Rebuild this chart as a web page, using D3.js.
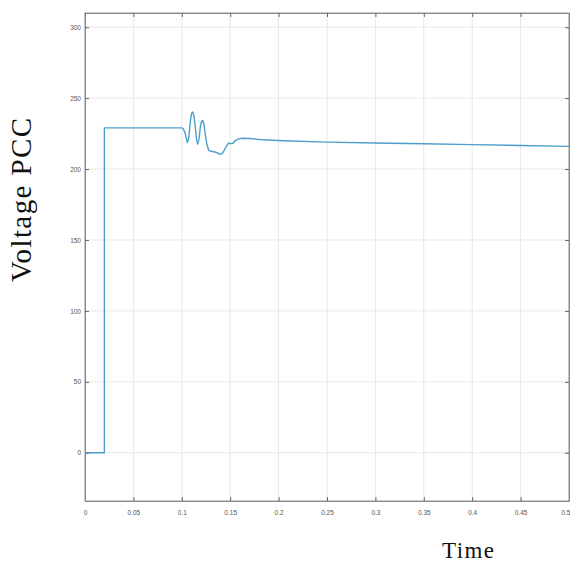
<!DOCTYPE html>
<html><head><meta charset="utf-8">
<script src="https://cdn.jsdelivr.net/npm/d3@7"></script>
<style>body{margin:0;background:#fff}svg{display:block}</style>
</head><body>
<script>
const timeValues = [0, 0.02, 0.02, 0.1, 0.1016, 0.1038, 0.1057, 0.1072, 0.1088, 0.110, 0.1112, 0.1126, 0.1142, 0.1154, 0.1164, 0.1178, 0.1193, 0.1206, 0.1216, 0.1229, 0.1245, 0.126, 0.1278, 0.1302, 0.1333, 0.1364, 0.1395, 0.1415, 0.1436, 0.1457, 0.1482, 0.1508, 0.1529, 0.155, 0.1584, 0.1632, 0.1705, 0.1839, 0.2045, 0.25, 0.3, 0.35, 0.4, 0.45, 0.5];
const voltageValues = [0, 0, 229, 229, 228.5, 224.4, 218.7, 222, 233.3, 239, 240.2, 237.5, 227.7, 220, 217.6, 221.3, 230.5, 233.7, 234.2, 231.2, 223.4, 217.1, 213.2, 212.5, 212.2, 211.5, 210.4, 210.7, 212.9, 215.7, 218.2, 217.9, 218.2, 219.9, 221.3, 221.7, 221.5, 220.6, 219.9, 219, 218.4, 217.8, 217.2, 216.6, 216];
const xTicks = [0, 0.05, 0.1, 0.15, 0.2, 0.25, 0.3, 0.35, 0.4, 0.45, 0.5];
const xTickLabels = ["0", "0.05", "0.1", "0.15", "0.2", "0.25", "0.3", "0.35", "0.4", "0.45", "0.5"];
const yTicks = [0, 50, 100, 150, 200, 250, 300];
const yLabel = "Voltage PCC";
const xLabel = "Time";

const W = 570, H = 563;
const L = 85, R = 569, T = 13, B = 501;
const svg = d3.select("body").append("svg").attr("width", W).attr("height", H);
const x = d3.scaleLinear().domain([0, 0.5]).range([L, R]);
const y = d3.scaleLinear().domain([-34, 310]).range([B, T]);

// grid
svg.append("g").selectAll("line").data(xTicks).join("line")
  .attr("x1", d => x(d)).attr("x2", d => x(d)).attr("y1", T).attr("y2", B)
  .attr("stroke", "#e8e8e8").attr("stroke-width", 1);
svg.append("g").selectAll("line").data(yTicks).join("line")
  .attr("x1", L).attr("x2", R).attr("y1", d => y(d)).attr("y2", d => y(d))
  .attr("stroke", "#e8e8e8").attr("stroke-width", 1);

// box
svg.append("rect").attr("x", L).attr("y", T).attr("width", R - L).attr("height", B - T)
  .attr("fill", "none").attr("stroke", "#9a9a9a").attr("stroke-width", 1);

// axes
const fmtX = (d, i) => xTickLabels[i];
const xAxis = svg.append("g").attr("transform", `translate(0,${B})`)
  .call(d3.axisBottom(x).tickValues(xTicks).tickFormat(fmtX).tickSizeInner(-4).tickSizeOuter(0).tickPadding(9));
xAxis.selectAll(".tick text").filter((d, i) => i === xTicks.length - 1).attr("text-anchor", "end").attr("dx", 1);
const yAxis = svg.append("g").attr("transform", `translate(${L},0)`)
  .call(d3.axisLeft(y).tickValues(yTicks).tickSizeInner(-4).tickSizeOuter(0).tickPadding(4));
svg.append("g").attr("transform", `translate(0,${T})`)
  .call(d3.axisTop(x).tickValues(xTicks).tickFormat("").tickSizeInner(-4).tickSizeOuter(0));
svg.append("g").attr("transform", `translate(${R},0)`)
  .call(d3.axisRight(y).tickValues(yTicks).tickFormat("").tickSizeInner(-4).tickSizeOuter(0));
svg.selectAll(".domain").attr("stroke", "#8a8a8a");
svg.selectAll(".tick line").attr("stroke", "#666");
svg.selectAll(".tick text").attr("fill", "#555").attr("font-family", "Liberation Sans Narrow, Liberation Sans, sans-serif").attr("font-size", 6.5);

// line
const line = d3.line().x((d, i) => x(timeValues[i])).y(d => y(d));
svg.append("path").datum(voltageValues).attr("d", line)
  .attr("fill", "none").attr("stroke", "#4e9ecb").attr("stroke-width", 1.4)
  .attr("stroke-linejoin", "round");

// labels
svg.append("text").attr("transform", `translate(31,200) rotate(-90)`)
  .attr("text-anchor", "middle").attr("font-family", "Liberation Serif, serif").attr("font-size", 29)
  .attr("textLength", 164).attr("lengthAdjust", "spacing")
  .attr("fill", "#111").text(yLabel);
svg.append("text").attr("x", 468).attr("y", 558)
  .attr("text-anchor", "middle").attr("font-family", "Liberation Serif, serif").attr("font-size", 23)
  .attr("textLength", 52).attr("lengthAdjust", "spacing")
  .attr("fill", "#111").text(xLabel);
</script>
</body></html>
